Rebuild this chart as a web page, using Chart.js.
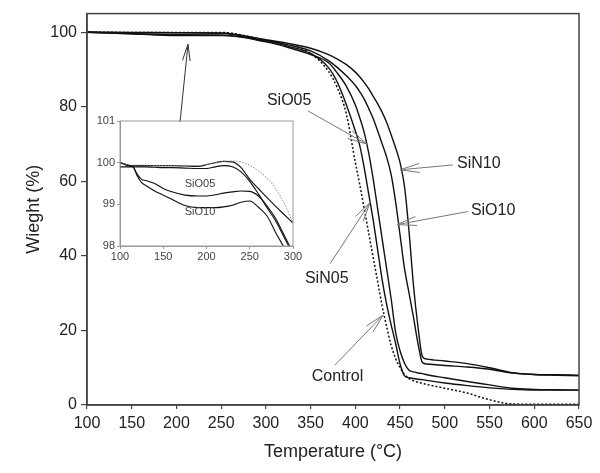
<!DOCTYPE html>
<html>
<head>
<meta charset="utf-8">
<script src="https://cdn.jsdelivr.net/npm/chart.js@4"></script>
<style>
  body { margin: 0; background: #fff; }
  #wrap { position: relative; width: 600px; height: 473px; }
  canvas { position: absolute; left: 0; top: 0; }
</style>
</head>
<body>
<div id="wrap">
  <canvas id="main" width="600" height="473"></canvas>
  <canvas id="inset" width="600" height="473"></canvas>
</div>
<script>
// main plot data (temperature in C, weight in %)
const temps = [100, 150, 200, 250, 300, 325, 350, 370, 380, 390, 400, 405, 410, 415, 420, 425, 430, 435, 440, 445, 450, 455, 460, 465, 470, 475, 480, 500, 525, 550, 575, 600, 625, 650];
const control = [100, 99.95, 99.95, 99.95, 97.8, 96.6, 94.3, 89.5, 85, 78, 65, 59, 52.5, 46, 39.5, 33, 26.5, 21, 16, 12.5, 10, 8.2, 7.1, 6.5, 6.1, 5.8, 5.5, 4.5, 3.2, 1.4, 0.3, 0.2, 0.2, 0.2];
const sin05 = [100, 99.9, 99.85, 99.7, 97.6, 96.2, 94.3, 90.5, 86.5, 80.5, 73.5, 69.5, 63.5, 56.5, 49.5, 41.5, 33.5, 27, 21.5, 16.5, 11, 7.8, 7.3, 7.1, 6.9, 6.8, 6.6, 5.9, 5.2, 4.6, 4.2, 4.0, 4.0, 4.0];
const sio05 = [100, 99.6, 99.35, 99.3, 97.4, 95.9, 94, 91.8, 89, 85.5, 80.5, 77, 73, 67.5, 60.5, 52.5, 44.5, 36.5, 28.5, 19.5, 14.5, 11.2, 9.3, 8.9, 8.6, 8.4, 8.1, 7.3, 6.3, 5.4, 4.5, 4.2, 4.1, 4.0];
const sio10 = [100, 99.6, 99.1, 99.1, 97.8, 96.6, 95, 92.4, 90.5, 88.3, 85.7, 84, 82, 79.5, 76.8, 73.5, 70, 66.5, 61.8, 54.5, 45.5, 36.5, 30, 23.5, 16.5, 11.4, 11.0, 10.6, 10.2, 9.6, 8.6, 8.2, 8.0, 7.8];
const sin10 = [100, 99.95, 99.9, 99.8, 98.0, 97.0, 95.7, 94, 92.8, 91.3, 89.3, 88, 86.5, 84.8, 82.8, 80.8, 78.5, 75.8, 72.5, 69, 65, 58.5, 46.5, 32, 21, 13, 12.3, 11.8, 11.1, 10, 8.7, 8.2, 8.1, 8.0];
const xTicks = [100, 150, 200, 250, 300, 350, 400, 450, 500, 550, 600, 650];
const yTicks = [0, 20, 40, 60, 80, 100];

// inset data
const insetTemps = [100, 105, 110, 115, 120, 125, 130, 140, 150, 160, 175, 190, 200, 210, 220, 230, 240, 250, 260, 270, 280, 290, 300];
const insetControl = [100, 99.97, 99.95, 99.94, 99.94, 99.94, 99.94, 99.93, 99.93, 99.93, 99.93, 99.93, 99.96, 100.0, 100.03, 100.04, 100.02, 99.94, 99.8, 99.63, 99.38, 99.02, 98.55];
const insetSin05 = [99.9, 99.9, 99.9, 99.9, 99.9, 99.9, 99.9, 99.89, 99.88, 99.88, 99.87, 99.86, 99.86, 99.9, 99.93, 99.9, 99.78, 99.55, 99.25, 98.92, 98.6, 98.2, 97.8];
const insetSio05 = [100, 99.97, 99.93, 99.9, 99.72, 99.6, 99.57, 99.5, 99.38, 99.3, 99.22, 99.2, 99.2, 99.23, 99.27, 99.3, 99.32, 99.31, 99.2, 98.96, 98.66, 98.25, 97.84];
const insetSio10 = [100, 99.96, 99.92, 99.9, 99.68, 99.52, 99.45, 99.32, 99.22, 99.12, 98.97, 98.92, 98.92, 98.92, 98.94, 98.98, 99.05, 99.08, 98.93, 98.72, 98.32, 97.95, 97.5];
const insetSin10 = [100, 99.97, 99.94, 99.93, 99.93, 99.93, 99.93, 99.93, 99.93, 99.93, 99.92, 99.91, 99.95, 100.0, 100.03, 100.02, 99.88, 99.6, 99.38, 99.16, 98.95, 98.75, 98.55];
const insetXTicks = [100, 150, 200, 250, 300];
const insetYTicks = [98, 99, 100, 101];

const FONT = "'Liberation Sans', Arial, sans-serif";
Chart.defaults.font.family = FONT;
Chart.defaults.color = '#222';

// arrows + labels, placed in data units
const mainNotes = [
  { text: 'SiO05', at: [326, 81.7], tail: [347, 78.9], tip: [412.7, 70] },
  { text: 'SiN10', at: [538, 64.7], tail: [509, 64.4], tip: [450, 63.1] },
  { text: 'SiO10', at: [554, 52.1], tail: [526, 51.9], tip: [446.6, 48.4] },
  { text: 'SiN05', at: [368, 33.9], tail: [371.7, 37.9], tip: [416.4, 54.3] },
  { text: 'Control', at: [380, 7.6], tail: [377, 10.7], tip: [431, 24.1] },
  { text: '', tail: [204, 75.9], tip: [212.9, 96.8], color: '#333', head: 17 }
];
const insetNotes = [
  { text: 'SiO05', at: [192.5, 99.48] },
  { text: 'SiO10', at: [192.5, 98.82] }
];

function mkSeries(xs, ys, opts) {
  return Object.assign({
    data: xs.map((t, i) => ({ x: t, y: ys[i] })),
    borderColor: '#111',
    borderWidth: 1.4,
    pointRadius: 0,
    cubicInterpolationMode: 'monotone',
    fill: false
  }, opts);
}

function drawArrow(ctx, x0, y0, x1, y1, len, color) {
  const ang = Math.atan2(y0 - y1, x0 - x1);
  const spread = 13 * Math.PI / 180;
  ctx.strokeStyle = color;
  ctx.lineWidth = 1;
  ctx.beginPath();
  ctx.moveTo(x0, y0);
  ctx.lineTo(x1, y1);
  ctx.moveTo(x1 + len * Math.cos(ang - spread), y1 + len * Math.sin(ang - spread));
  ctx.lineTo(x1, y1);
  ctx.lineTo(x1 + len * Math.cos(ang + spread), y1 + len * Math.sin(ang + spread));
  ctx.stroke();
}

const framePlugin = {
  id: 'frame',
  afterDatasetsDraw(chart) {
    const { ctx, chartArea: a } = chart;
    const isMain = chart.canvas.id === 'main';
    ctx.save();
    ctx.strokeStyle = isMain ? '#444' : '#999';
    ctx.lineWidth = isMain ? 1.5 : 1;
    ctx.strokeRect(a.left, a.top, a.right - a.left, a.bottom - a.top);
    ctx.restore();
  }
};

const notesPlugin = {
  id: 'notes',
  afterDraw(chart) {
    const { ctx, scales: { x, y } } = chart;
    const isMain = chart.canvas.id === 'main';
    const notes = isMain ? mainNotes : insetNotes;
    ctx.save();
    notes.forEach(n => {
      if (n.tip) {
        drawArrow(ctx,
          x.getPixelForValue(n.tail[0]), y.getPixelForValue(n.tail[1]),
          x.getPixelForValue(n.tip[0]), y.getPixelForValue(n.tip[1]),
          n.head || 20, n.color || '#777');
      }
      if (n.text) {
        ctx.fillStyle = isMain ? '#222' : '#444';
        ctx.font = (isMain ? 16 : 11) + 'px ' + FONT;
        ctx.textAlign = 'center';
        ctx.textBaseline = 'middle';
        ctx.fillText(n.text, x.getPixelForValue(n.at[0]), y.getPixelForValue(n.at[1]));
      }
    });
    ctx.restore();
  }
};

new Chart(document.getElementById('main'), {
  type: 'line',
  data: {
    datasets: [
      mkSeries(temps, control, { label: 'Control', borderDash: [2, 2], borderWidth: 1.5 }),
      mkSeries(temps, sin05, { label: 'SiN05' }),
      mkSeries(temps, sio05, { label: 'SiO05' }),
      mkSeries(temps, sio10, { label: 'SiO10' }),
      mkSeries(temps, sin10, { label: 'SiN10' })
    ]
  },
  options: {
    responsive: false,
    animation: false,
    devicePixelRatio: 1,
    layout: { padding: { left: 0, top: 12, right: 21, bottom: 0 } },
    scales: {
      x: {
        type: 'linear', min: 100, max: 650,
        afterBuildTicks: s => { s.ticks = xTicks.map(v => ({ value: v })); },
        afterFit: s => { s.height = 68; },
        grid: { drawOnChartArea: false, tickLength: 4, color: '#444', lineWidth: 1.2 },
        border: { color: '#444', width: 1.5 },
        ticks: { font: { size: 16 }, color: '#222', padding: 5, maxRotation: 0 },
        title: { display: true, text: 'Temperature (°C)', font: { size: 18 }, color: '#222', padding: { top: 0, bottom: 10 } }
      },
      y: {
        min: 0, max: 105,
        afterBuildTicks: s => { s.ticks = yTicks.map(v => ({ value: v })); },
        afterFit: s => { s.width = 87; },
        grid: { drawOnChartArea: false, tickLength: 6, color: '#444', lineWidth: 1.2 },
        border: { color: '#444', width: 1.5 },
        ticks: { font: { size: 16 }, color: '#222', padding: 4 },
        title: { display: true, text: 'Wieght (%)', font: { size: 18 }, color: '#222', padding: { top: 23, bottom: 0 } }
      }
    },
    plugins: { legend: { display: false }, tooltip: { enabled: false } }
  },
  plugins: [framePlugin, notesPlugin]
});

new Chart(document.getElementById('inset'), {
  type: 'line',
  data: {
    datasets: [
      mkSeries(insetTemps, insetControl, { label: 'Control', borderDash: [1.5, 1.5], borderColor: '#888', borderWidth: 1 }),
      mkSeries(insetTemps, insetSin05, { label: 'SiN05', borderWidth: 1.1 }),
      mkSeries(insetTemps, insetSio05, { label: 'SiO05', borderWidth: 1.1 }),
      mkSeries(insetTemps, insetSio10, { label: 'SiO10', borderWidth: 1.1 }),
      mkSeries(insetTemps, insetSin10, { label: 'SiN10', borderWidth: 1.1 })
    ]
  },
  options: {
    responsive: false,
    animation: false,
    devicePixelRatio: 1,
    layout: { padding: { left: 90, top: 121, right: 307, bottom: 207 } },
    scales: {
      x: {
        type: 'linear', min: 100, max: 300,
        afterBuildTicks: s => { s.ticks = insetXTicks.map(v => ({ value: v })); },
        afterFit: s => { s.height = 20; },
        grid: { drawOnChartArea: false, tickLength: 3, color: '#999' },
        border: { color: '#999' },
        ticks: { font: { size: 11 }, color: '#444', padding: 1, maxRotation: 0 }
      },
      y: {
        min: 98, max: 101,
        afterBuildTicks: s => { s.ticks = insetYTicks.map(v => ({ value: v })); },
        afterFit: s => { s.width = 30; },
        grid: { drawOnChartArea: false, tickLength: 3, color: '#999' },
        border: { color: '#999' },
        ticks: { font: { size: 11 }, color: '#444', padding: 2 }
      }
    },
    plugins: { legend: { display: false }, tooltip: { enabled: false } }
  },
  plugins: [framePlugin, notesPlugin]
});
</script>
</body>
</html>
